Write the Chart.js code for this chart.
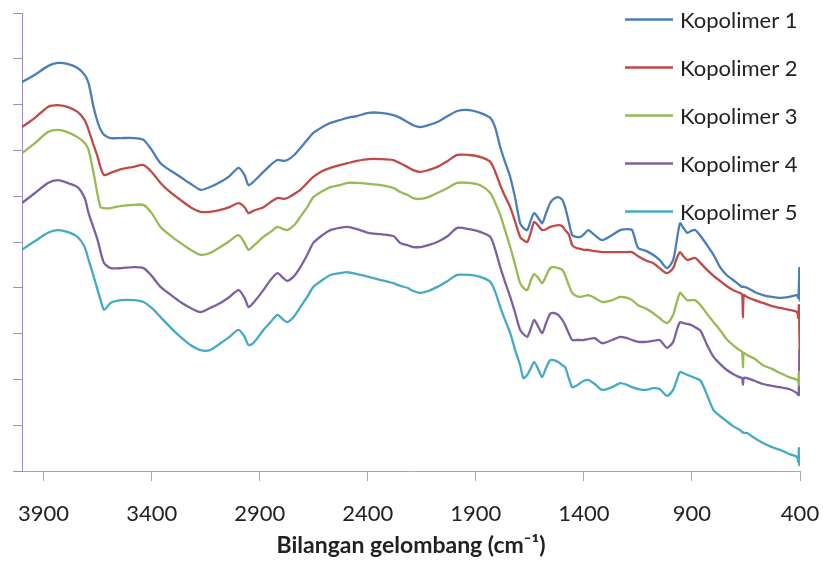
<!DOCTYPE html>
<html>
<head>
<meta charset="utf-8">
<title>Spektrum FTIR Kopolimer</title>
<script src="https://cdn.jsdelivr.net/npm/chart.js@4.4.1/dist/chart.umd.min.js"></script>
<style>
  html, body { margin: 0; padding: 0; background: #fff; }
  #spectrum { display: block; }
</style>
</head>
<body>
<canvas id="spectrum" width="823" height="561"></canvas>
<script>
// ================= Data =================
// wavenumbers (cm-1), shared by all five spectra
const wavenumbers = [4000,3940,3880,3835,3790,3743,3710,3692,3669,3650,
  3636,3620,3590,3540,3484,3438,3400,3359,3310,3267,
  3220,3174,3130,3082,3040,2998,2970,2952,2930,2883,
  2850,2818,2790,2772,2740,2712,2680,2652,2610,2573,
  2530,2494,2450,2397,2340,2282,2250,2217,2190,2157,
  2120,2078,2030,1986,1930,1880,1833,1810,1787,1765,
  1741,1718,1695,1680,1662,1645,1630,1610,1593,1575,
  1556,1540,1519,1500,1487,1470,1454,1435,1417,1400,
  1380,1350,1315,1270,1232,1200,1177,1149,1110,1080,
  1050,1015,987,970,955,940,922,905,885,860,
  830,800,770,740,710,680,668,664,660,645,
  610,571,530,492,450,414,408,405,403,401,
  400];

const kopolimer1 = [84.9,86.5,88.4,89.1,88.9,88.0,86.5,84.7,79.5,76.2,
  74.5,73.4,72.7,72.7,72.7,72.3,70.1,67.2,65.5,64.2,
  62.7,61.4,62.0,63.1,64.4,66.2,64.6,62.4,63.1,65.3,
  66.8,67.9,67.7,67.9,69.0,70.5,72.3,73.8,75.1,76.0,
  76.6,77.1,77.5,78.2,78.2,77.7,77.1,76.2,75.5,75.1,
  75.5,76.2,77.5,78.6,78.8,78.2,77.1,74.9,70.7,67.5,
  64.2,59.6,54.1,53.1,52.6,54.8,56.3,55.2,54.1,56.3,
  58.5,59.4,59.8,59.2,57.6,54.4,51.5,51.1,51.1,51.7,
  52.6,51.5,50.4,51.5,52.6,52.8,52.6,48.7,48.0,47.2,
  46.1,44.3,46.1,50.4,54.1,53.1,52.0,52.4,52.6,51.3,
  49.3,47.2,44.5,42.8,41.7,40.6,40.2,40.2,40.2,40.0,
  39.1,38.4,38.0,37.8,38.0,38.4,37.8,40.6,44.3,37.3,
  39.1];

const kopolimer2 = [75.1,77.1,79.5,79.9,79.5,78.4,76.6,74.5,71.2,68.6,
  66.2,64.6,65.1,65.9,66.4,66.8,65.3,62.9,60.7,59.2,
  57.6,56.6,56.6,57.0,57.6,58.5,57.6,56.3,56.8,57.6,
  58.7,59.6,59.4,59.6,60.5,61.4,62.9,64.2,65.5,66.2,
  66.8,67.2,67.7,68.1,68.1,67.9,67.2,66.4,65.7,65.3,
  65.7,66.4,67.7,69.0,69.0,68.6,67.5,65.3,62.4,60.0,
  57.6,54.4,51.1,50.4,50.0,52.2,54.4,53.5,52.6,52.8,
  53.3,53.5,53.7,53.5,52.6,51.7,49.3,48.7,48.5,48.3,
  48.3,48.0,47.8,47.8,47.8,47.8,47.8,46.9,45.9,45.4,
  44.3,43.2,44.3,46.5,47.8,46.9,46.1,46.3,46.5,45.4,
  43.9,42.6,41.5,40.4,39.5,38.9,38.6,33.6,38.4,38.0,
  37.3,36.7,36.0,35.6,35.2,34.7,33.4,36.2,30.8,26.4,
  33.0];

const kopolimer3 = [69.4,71.6,74.0,74.5,74.0,72.9,71.6,70.1,65.1,60.3,
  57.6,57.4,57.4,57.9,58.1,58.1,56.3,53.3,51.3,49.8,
  48.3,47.2,47.6,48.9,50.2,51.5,49.8,48.3,49.1,51.1,
  52.2,53.3,52.8,52.6,53.7,55.5,57.6,59.8,61.1,62.0,
  62.4,62.9,62.9,62.7,62.4,61.8,60.9,60.3,59.6,59.4,
  59.8,60.7,61.8,62.9,62.9,62.4,60.7,58.5,55.9,52.6,
  48.9,45.0,41.0,40.0,39.5,41.7,43.0,42.1,41.0,42.6,
  44.3,44.5,44.3,43.9,42.8,40.6,38.9,38.2,38.0,38.2,
  38.4,37.8,36.9,37.3,38.0,37.8,37.3,36.2,35.4,34.5,
  33.4,32.3,34.1,36.9,38.9,38.2,37.3,37.3,37.3,36.2,
  34.3,32.5,30.8,28.8,27.5,26.4,26.0,22.7,25.8,25.3,
  24.5,23.1,22.3,21.4,20.5,19.9,19.4,21.6,18.8,19.9,
  20.3];

const kopolimer4 = [58.5,60.7,62.9,63.5,62.9,62.0,59.6,56.3,53.1,50.4,
  47.8,45.4,44.3,44.3,44.5,44.3,42.6,40.2,38.4,36.9,
  35.6,34.7,35.6,36.7,38.0,39.5,37.8,35.8,36.7,39.5,
  41.7,43.2,42.1,41.5,42.6,44.5,47.2,49.8,51.5,52.6,
  53.1,53.3,52.8,52.0,51.7,51.3,49.8,49.3,48.9,48.9,
  49.3,50.0,51.3,53.1,52.8,52.2,51.1,48.3,44.5,41.3,
  38.0,34.5,30.8,29.9,29.3,31.2,33.0,31.4,30.1,32.3,
  34.3,34.5,34.1,33.0,31.9,30.1,28.6,28.6,28.6,28.6,
  28.8,29.0,27.9,28.6,29.3,29.0,28.6,28.2,28.2,28.4,
  28.6,26.9,28.2,30.8,32.5,32.3,32.1,31.9,31.4,30.6,
  27.5,24.9,23.4,22.1,21.2,20.5,20.3,18.8,20.3,20.3,
  19.7,19.0,18.6,18.3,17.9,17.0,16.6,18.1,26.4,16.6,
  17.0];

const kopolimer5 = [48.3,50.2,52.0,52.6,52.2,51.1,48.9,46.1,42.6,39.5,
  37.3,35.2,36.7,37.3,37.3,36.9,35.6,33.6,31.2,29.3,
  27.5,26.4,26.4,27.9,29.3,30.8,29.3,27.5,27.9,30.8,
  32.5,34.1,33.0,32.5,33.8,35.8,38.0,40.2,41.7,42.8,
  43.2,43.4,43.0,42.4,41.7,41.0,40.4,40.0,39.3,38.9,
  39.3,40.2,41.5,42.8,42.8,42.4,41.3,39.1,35.8,33.0,
  30.1,26.4,23.1,20.3,21.0,22.5,23.8,22.1,20.5,22.5,
  24.2,24.2,23.8,23.1,22.7,20.3,18.3,18.6,19.2,19.7,
  19.9,19.0,17.7,18.3,19.2,18.8,18.3,17.9,17.7,18.1,
  17.9,16.4,17.7,19.9,21.6,21.4,21.0,20.7,20.3,19.7,
  16.6,13.3,12.0,10.9,9.8,9.0,8.5,8.5,8.3,8.3,
  7.2,6.1,5.2,4.6,3.7,3.1,2.0,5.0,1.3,3.5,
  2.4];

const seriesNames = ["Kopolimer 1", "Kopolimer 2", "Kopolimer 3", "Kopolimer 4", "Kopolimer 5"];
const seriesValues = [kopolimer1, kopolimer2, kopolimer3, kopolimer4, kopolimer5];
const xTickValues = [3900, 3400, 2900, 2400, 1900, 1400, 900, 400];

// ================= Styles =================
const lineColors = ["#4a7ebb", "#be4b48", "#98b954", "#7d60a0", "#46aac5"];
const textColor = "#222222";
const fontFamily = "Lato, 'Open Sans', sans-serif";

const datasets = seriesNames.map((name, i) => ({
    label: name,
    data: wavenumbers.map((w, j) => ({ x: w, y: seriesValues[i][j] })),
    borderColor: lineColors[i],
    backgroundColor: lineColors[i],
    borderWidth: 2.3,
    pointRadius: 0,
    tension: 0.25,
    fill: false
}));

// ================= Legend (drawn over the plot, top right) =================
const sideLegend = {
    id: "sideLegend",
    afterDraw(chart) {
        const ctx = chart.ctx;
        ctx.save();
        ctx.font = "22px " + fontFamily;
        ctx.textBaseline = "middle";
        ctx.textAlign = "left";
        chart.data.datasets.forEach((ds, i) => {
            const y = 19.5 + i * 48;
            ctx.strokeStyle = ds.borderColor;
            ctx.lineWidth = 2.5;
            ctx.beginPath();
            ctx.moveTo(625, y);
            ctx.lineTo(673, y);
            ctx.stroke();
            ctx.fillStyle = textColor;
            ctx.fillText(ds.label, 680, y + 1);
        });
        ctx.restore();
    }
};

// ================= Chart =================
const ctx = document.getElementById("spectrum").getContext("2d");

new Chart(ctx, {
    type: "line",
    data: { datasets },
    options: {
        responsive: false,
        animation: false,
        layout: { padding: { left: 13, top: 13, right: 23, bottom: 0 } },
        plugins: {
            legend: { display: false },
            tooltip: { enabled: false }
        },
        scales: {
            x: {
                type: "linear",
                reverse: true,
                min: 400,
                max: 4000,
                afterBuildTicks: scale => {
                    scale.ticks = xTickValues.map(v => ({ value: v }));
                },
                // fixed band under the plot for ticks, labels and title
                afterFit: scale => {
                    scale.height = 90;
                },
                ticks: {
                    autoSkip: false,
                    maxRotation: 0,
                    padding: 3,
                    color: textColor,
                    font: { family: fontFamily, size: 22, lineHeight: 2.7 },
                    callback: v => String(v)
                },
                grid: {
                    drawOnChartArea: false,
                    tickLength: 10,
                    color: "#a6a6a6"
                },
                border: { color: "#a6a6a6" },
                title: {
                    display: true,
                    text: "Bilangan gelombang (cm\u207B\u00B9)",
                    color: textColor,
                    font: { family: fontFamily, size: 23, weight: "bold" },
                    padding: { top: 0, bottom: 2 }
                }
            },
            y: {
                min: 0,
                max: 100,
                ticks: { display: false, stepSize: 10 },
                grid: {
                    drawOnChartArea: false,
                    tickLength: 9,
                    color: "#9e8cc6"
                },
                border: { color: "#9e8cc6" }
            }
        }
    },
    plugins: [sideLegend]
});
</script>
</body>
</html>
